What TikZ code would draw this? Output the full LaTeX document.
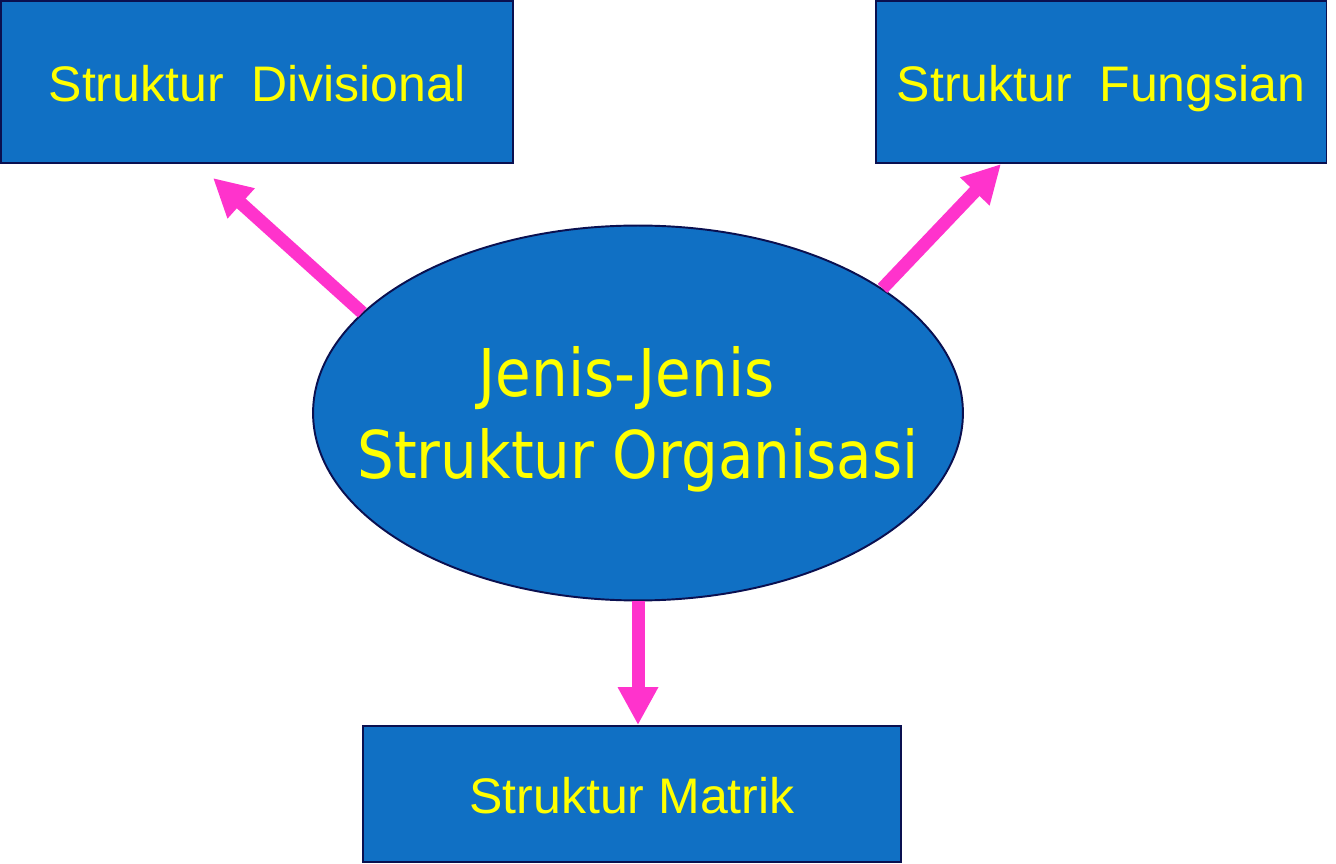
\documentclass[tikz,border=0pt]{standalone}
\usepackage{fontspec}
\setmainfont{Liberation Sans}
\newfontfamily\ovalfont[FakeStretch=0.88]{DejaVu Sans}
\usepackage{tikz}
\usetikzlibrary{positioning}
\usetikzlibrary{calc}
\usetikzlibrary{shapes.geometric, arrows.meta}

\definecolor{boxblue}{RGB}{16,112,196}
\definecolor{boxline}{RGB}{10,16,80}
\definecolor{arrowpink}{RGB}{255,51,204}
\definecolor{textyellow}{RGB}{255,255,0}

\begin{document}
\begin{tikzpicture} [x=0.02cm, y=-0.02cm]
    % styles for the boxes, the oval and the arrows
    \tikzstyle{typebox} = [draw=boxline, line width=1.1pt, fill=boxblue,
        text=textyellow, inner sep=0pt, text height=0.8cm, text depth=0cm,
        font=\fontsize{28.45}{34}\selectfont]
    \tikzstyle{oval} = [draw=boxline, line width=1.1pt, fill=boxblue,
        ellipse, inner sep=0pt, minimum width=13cm, minimum height=7.5cm]
    \tikzstyle{ovaltext} = [text=textyellow, align=center, inner sep=0pt,
        font=\ovalfont\fontsize{37.5}{46.5}\selectfont]
    \tikzstyle{pinkarrow} = [draw=arrowpink, line width=7.4pt,
        -{Triangle[width=0.76cm, length=0.76cm]}]

    \useasboundingbox (0, 0) rectangle (1336, 864);

    % the centre oval and its text
    \node (jenis) [oval] at (638, 413) {};
    \node (jenistext) [ovaltext] at ($(jenis.center) + (0, 6)$)
        {Jenis-Jenis\hspace*{0.45cm}\\Struktur Organisasi};

    % the three kinds of structure
    \node (divisional) [typebox, minimum width=10.24cm, minimum height=3.24cm]
        at (257, 82) {Struktur\ \ Divisional};
    \node (fungsian) [typebox, minimum width=9.02cm, minimum height=3.24cm]
        at (1101, 82) {Struktur\ \ Fungsian};
    \node (matrik) [typebox, minimum width=10.76cm, minimum height=2.72cm]
        at (632, 794) {Struktur Matrik};

    % arrow tips just below the upper boxes
    \coordinate (tipdiv) at (213, 178);
    \coordinate (tipfung) at (1001, 164);

    % arrows from the oval
    \draw [pinkarrow] (jenis.160.5) -- (tipdiv);
    \draw [pinkarrow] (jenis.27.5) -- (tipfung);
    \draw [pinkarrow] (jenis.south) -- (jenis.south |- matrik.north);

\end{tikzpicture}
\end{document}
